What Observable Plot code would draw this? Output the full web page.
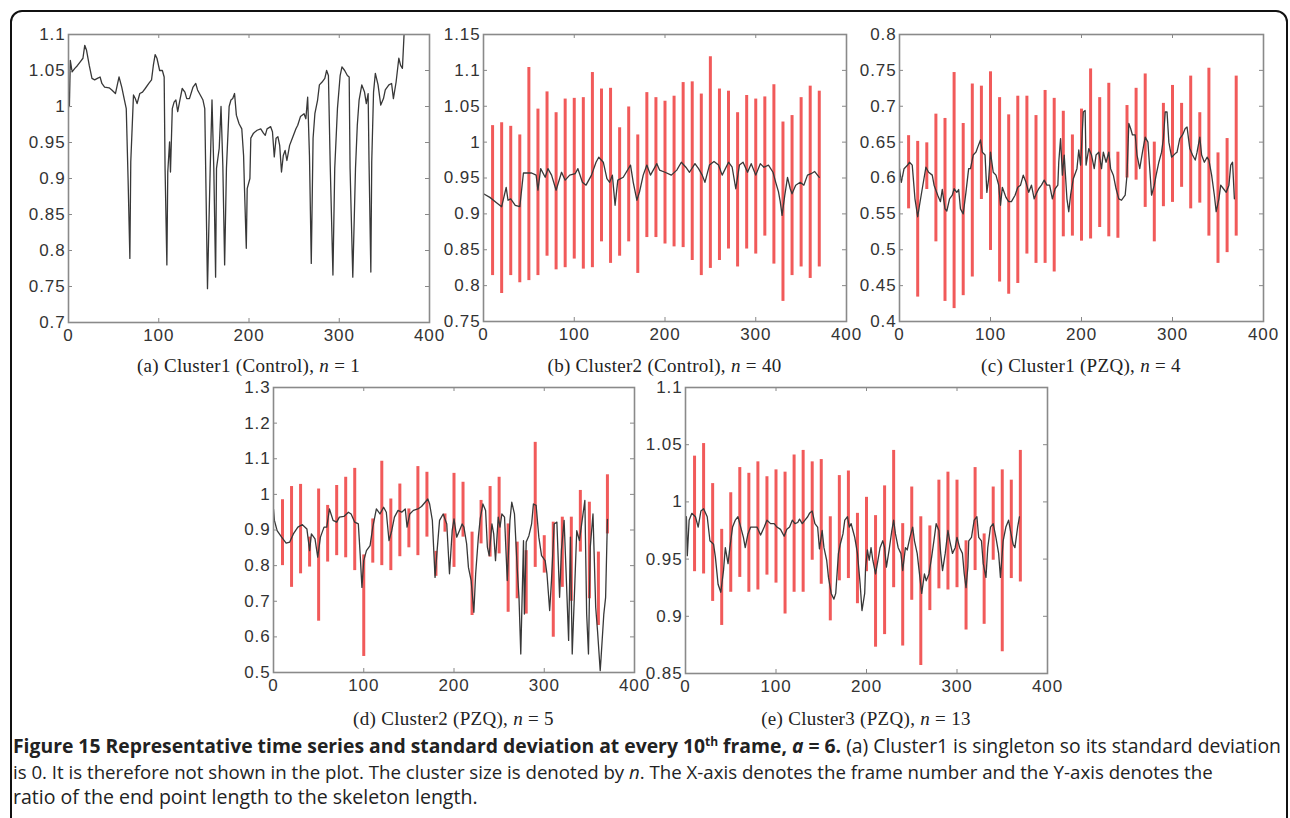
<!DOCTYPE html>
<html>
<head>
<meta charset="utf-8">
<script src="https://cdn.jsdelivr.net/npm/d3@7"></script>
<script src="https://cdn.jsdelivr.net/npm/@observablehq/plot@0.6"></script>
<style>
  html, body { margin: 0; padding: 0; background: #fff; }
  #root { position: relative; width: 1290px; height: 818px; overflow: hidden; background: #fff; }
  .border { position: absolute; left: 10px; top: 10px; width: 1278px; height: 900px; border: 2px solid #111; border-radius: 12px; box-sizing: border-box; }
  .panel { position: absolute; }
  .ptitle { position: absolute; width: 420px; text-align: center; font-family: "Liberation Serif", "Times New Roman", serif; font-size: 19px; line-height: 22px; color: #222; white-space: nowrap; letter-spacing: 0.3px; }
  .cap { position: absolute; left: 13px; font-family: "Open Sans", sans-serif; font-size: 16px; line-height: 25px; color: #222; white-space: nowrap; }
  .cap b { font-weight: 700; }
  .cap sup { font-size: 0.62em; line-height: 0; }
</style>
</head>
<body>
<div id="root">
  <div class="border"></div>
</div>
<script>
// ---------------- data ----------------
const xTicks = [0, 100, 200, 300, 400];
const barFrames = [10,20,30,40,50,60,70,80,90,100,110,120,130,140,150,160,170,180,190,200,210,220,230,240,250,260,270,280,290,300,310,320,330,340,350,360,370];

// (a) Cluster1 (Control), n = 1  -- [frame, ratio]
const seriesA = [[1,1.0],[2,1.064],[4,1.048],[7,1.053],[10,1.057],[13,1.062],[16,1.067],[18,1.085],[20,1.078],[23,1.057],[26,1.039],[29,1.037],[32,1.039],[35,1.041],[37,1.032],[40,1.027],[45,1.026],[48,1.023],[52,1.018],[56,1.041],[59,1.027],[62,1.009],[64,0.997],[66,0.900],[68,0.789],[69,0.923],[72,1.016],[74,1.011],[76,1.004],[79,1.018],[82,1.020],[85,1.025],[89,1.032],[92,1.037],[94,1.057],[96,1.072],[98,1.067],[101,1.050],[104,1.050],[106,1.041],[107,0.914],[109,0.780],[110,0.909],[112,0.951],[113,0.909],[115,0.997],[117,1.006],[119,1.009],[121,0.993],[123,1.006],[126,1.025],[129,1.020],[131,1.011],[134,1.011],[138,1.027],[141,1.032],[143,1.023],[146,1.016],[149,1.009],[151,0.997],[152,0.914],[154,0.747],[157,0.914],[159,1.009],[161,0.914],[163,0.763],[164,0.914],[167,0.942],[169,1.000],[171,0.918],[173,0.780],[175,0.914],[178,1.000],[180,1.009],[182,1.011],[184,1.018],[186,0.988],[189,0.976],[192,0.969],[194,0.932],[195,0.886],[197,0.803],[198,0.886],[201,0.900],[202,0.956],[205,0.963],[209,0.967],[213,0.969],[216,0.963],[218,0.960],[220,0.969],[224,0.972],[226,0.965],[228,0.930],[230,0.956],[232,0.958],[234,0.946],[236,0.909],[238,0.932],[240,0.939],[242,0.925],[245,0.946],[248,0.956],[252,0.969],[254,0.974],[257,0.986],[261,0.990],[263,0.983],[265,1.013],[267,0.932],[269,0.782],[271,0.956],[273,0.990],[276,1.009],[278,1.030],[281,1.034],[284,1.039],[286,1.050],[288,1.043],[290,0.918],[293,0.766],[295,0.914],[298,0.997],[301,1.043],[303,1.055],[306,1.050],[309,1.043],[311,1.041],[312,0.914],[315,0.763],[318,0.914],[320,0.974],[322,1.009],[325,1.030],[328,1.020],[330,1.004],[332,1.018],[333,0.923],[335,0.770],[336,0.923],[338,1.020],[340,1.046],[343,1.030],[346,1.002],[349,1.011],[351,1.023],[355,1.030],[358,1.032],[360,1.011],[363,1.034],[366,1.067],[368,1.057],[370,1.053],[372,1.105]];

// (b) Cluster2 (Control), n = 40
const seriesB = [[0,0.928],[7,0.923],[14,0.916],[20,0.910],[25,0.937],[27,0.919],[30,0.921],[35,0.912],[40,0.910],[44,0.957],[53,0.957],[58,0.954],[60,0.933],[63,0.963],[68,0.951],[71,0.963],[75,0.954],[80,0.933],[86,0.958],[90,0.947],[95,0.954],[101,0.956],[104,0.963],[109,0.944],[113,0.940],[119,0.954],[124,0.972],[127,0.979],[132,0.972],[136,0.949],[139,0.944],[142,0.954],[145,0.912],[148,0.947],[154,0.951],[162,0.968],[165,0.944],[169,0.919],[172,0.931],[176,0.954],[180,0.968],[184,0.954],[191,0.970],[194,0.961],[200,0.958],[207,0.954],[213,0.961],[218,0.972],[223,0.965],[227,0.958],[233,0.970],[237,0.963],[241,0.954],[244,0.944],[249,0.968],[254,0.973],[259,0.968],[263,0.954],[270,0.972],[274,0.965],[278,0.935],[282,0.968],[286,0.972],[291,0.958],[295,0.970],[300,0.954],[305,0.970],[309,0.965],[314,0.968],[319,0.958],[322,0.944],[325,0.931],[327,0.917],[329,0.898],[332,0.926],[335,0.951],[338,0.935],[340,0.928],[344,0.940],[349,0.944],[353,0.940],[357,0.954],[361,0.956],[365,0.959],[370,0.951]];
const highB = [1.023,1.027,1.022,1.010,1.104,1.046,1.070,1.041,1.060,1.061,1.062,1.097,1.074,1.075,1.020,1.049,1.010,1.069,1.062,1.057,1.064,1.083,1.084,1.067,1.119,1.074,1.071,1.041,1.065,1.060,1.063,1.080,1.028,1.037,1.062,1.078,1.071];
const lowB  = [0.814,0.789,0.814,0.804,0.807,0.814,0.841,0.822,0.825,0.837,0.823,0.825,0.861,0.831,0.841,0.861,0.817,0.867,0.867,0.858,0.854,0.853,0.835,0.814,0.824,0.835,0.851,0.826,0.851,0.844,0.869,0.830,0.778,0.814,0.826,0.810,0.826];

// (c) Cluster1 (PZQ), n = 4
const seriesC = [[0,0.613],[2,0.594],[5,0.613],[9,0.618],[11,0.622],[14,0.618],[17,0.571],[20,0.546],[22,0.562],[25,0.585],[29,0.615],[32,0.608],[36,0.604],[38,0.590],[42,0.576],[45,0.567],[47,0.584],[50,0.557],[52,0.554],[55,0.571],[58,0.576],[60,0.585],[63,0.580],[65,0.584],[67,0.557],[70,0.550],[73,0.580],[76,0.613],[78,0.613],[81,0.632],[84,0.636],[86,0.643],[89,0.653],[91,0.636],[94,0.632],[96,0.580],[98,0.599],[100,0.636],[103,0.608],[106,0.604],[109,0.590],[111,0.562],[113,0.587],[117,0.573],[120,0.567],[123,0.567],[127,0.576],[130,0.587],[133,0.590],[136,0.604],[139,0.594],[142,0.580],[145,0.590],[148,0.571],[151,0.580],[153,0.585],[156,0.590],[159,0.597],[162,0.590],[165,0.590],[168,0.571],[171,0.585],[174,0.590],[175,0.622],[177,0.655],[179,0.604],[181,0.632],[184,0.571],[186,0.553],[188,0.576],[191,0.599],[195,0.613],[197,0.639],[199,0.618],[202,0.692],[204,0.694],[205,0.618],[208,0.641],[211,0.632],[214,0.613],[216,0.632],[219,0.636],[222,0.613],[224,0.636],[227,0.622],[230,0.636],[232,0.613],[235,0.604],[238,0.585],[241,0.571],[244,0.569],[248,0.576],[250,0.604],[252,0.676],[254,0.669],[256,0.660],[259,0.660],[261,0.632],[264,0.613],[267,0.636],[270,0.657],[273,0.650],[275,0.613],[277,0.576],[280,0.590],[282,0.604],[285,0.622],[288,0.636],[290,0.655],[292,0.692],[294,0.692],[296,0.650],[299,0.629],[303,0.634],[305,0.636],[308,0.655],[311,0.660],[314,0.669],[316,0.671],[319,0.641],[322,0.632],[325,0.625],[327,0.636],[330,0.657],[332,0.632],[335,0.622],[338,0.629],[340,0.625],[343,0.604],[346,0.576],[348,0.553],[351,0.571],[353,0.590],[356,0.585],[359,0.580],[362,0.590],[364,0.618],[366,0.622],[368,0.571]];
const highC = [0.659,0.651,0.649,0.689,0.683,0.747,0.676,0.731,0.728,0.748,0.712,0.688,0.714,0.714,0.687,0.722,0.711,0.693,0.660,0.696,0.752,0.712,0.732,0.636,0.701,0.725,0.745,0.650,0.704,0.729,0.704,0.742,0.691,0.753,0.635,0.655,0.742];
const lowC  = [0.557,0.434,0.584,0.511,0.428,0.418,0.436,0.462,0.570,0.499,0.455,0.438,0.453,0.494,0.481,0.481,0.469,0.518,0.519,0.512,0.515,0.531,0.518,0.516,0.600,0.597,0.559,0.511,0.560,0.566,0.587,0.557,0.565,0.519,0.481,0.496,0.519];

// (d) Cluster2 (PZQ), n = 5
const seriesD = [[0,0.959],[1,0.927],[4,0.898],[9,0.880],[14,0.863],[18,0.866],[22,0.889],[27,0.908],[32,0.915],[37,0.903],[40,0.842],[42,0.889],[46,0.875],[49,0.824],[52,0.880],[56,0.908],[59,0.908],[62,0.959],[66,0.927],[70,0.922],[73,0.936],[78,0.938],[83,0.950],[86,0.945],[90,0.922],[94,0.917],[96,0.833],[98,0.739],[100,0.814],[103,0.842],[107,0.856],[110,0.908],[114,0.959],[118,0.945],[122,0.964],[125,0.950],[128,0.870],[131,0.898],[134,0.936],[138,0.955],[142,0.950],[146,0.959],[148,0.908],[151,0.945],[155,0.955],[160,0.959],[164,0.966],[168,0.978],[171,0.987],[173,0.973],[176,0.927],[179,0.767],[181,0.833],[184,0.927],[188,0.945],[192,0.917],[195,0.777],[198,0.898],[200,0.931],[203,0.880],[206,0.898],[209,0.917],[211,0.908],[214,0.861],[216,0.795],[219,0.758],[222,0.669],[224,0.777],[227,0.880],[229,0.931],[232,0.973],[235,0.955],[237,0.852],[239,0.828],[242,0.917],[244,0.889],[246,0.814],[249,0.936],[251,0.908],[253,0.945],[256,0.936],[259,0.758],[262,0.927],[264,0.978],[267,0.945],[270,0.795],[272,0.711],[274,0.552],[277,0.870],[278,0.664],[280,0.866],[283,0.884],[286,0.917],[288,0.973],[291,0.969],[294,0.880],[297,0.828],[301,0.814],[303,0.777],[306,0.674],[308,0.758],[311,0.917],[314,0.922],[317,0.711],[319,0.842],[322,0.927],[324,0.795],[327,0.590],[329,0.880],[331,0.552],[334,0.758],[336,0.898],[339,0.870],[342,0.927],[345,0.983],[347,0.664],[349,0.552],[351,0.852],[354,0.945],[357,0.683],[359,0.618],[362,0.505],[363,0.543],[366,0.664],[368,0.711],[370,0.930]];
const highD = [0.985,1.022,1.028,0.880,1.015,0.969,1.025,1.048,1.073,0.830,0.931,1.093,0.987,1.029,0.959,1.078,1.062,0.840,0.945,1.059,1.034,0.894,0.983,1.022,1.048,0.917,0.866,0.842,1.146,0.884,0.922,0.936,0.936,1.011,0.978,0.838,1.055];
const lowD  = [0.800,0.739,0.777,0.796,0.644,0.810,0.828,0.822,0.786,0.545,0.807,0.800,0.786,0.825,0.850,0.828,0.880,0.770,0.894,0.795,0.880,0.660,0.861,0.824,0.833,0.669,0.707,0.664,0.795,0.779,0.599,0.739,0.700,0.838,0.707,0.632,0.889];

// (e) Cluster3 (PZQ), n = 13
const seriesE = [[1,0.987],[2,0.953],[4,0.984],[7,0.990],[11,0.987],[14,0.978],[17,0.992],[20,0.994],[24,0.987],[27,0.966],[31,0.963],[33,0.952],[36,0.928],[39,0.921],[42,0.940],[44,0.960],[47,0.946],[49,0.960],[52,0.978],[55,0.984],[58,0.987],[61,0.978],[64,0.969],[66,0.960],[69,0.972],[72,0.978],[76,0.978],[79,0.978],[83,0.971],[87,0.978],[90,0.984],[94,0.981],[98,0.981],[101,0.978],[105,0.976],[109,0.970],[112,0.976],[115,0.978],[118,0.984],[121,0.981],[124,0.982],[126,0.985],[129,0.981],[132,0.984],[135,0.987],[137,0.990],[140,0.992],[143,0.981],[146,0.978],[148,0.959],[151,0.975],[153,0.960],[156,0.949],[158,0.934],[161,0.920],[164,0.915],[166,0.920],[169,0.955],[171,0.963],[174,0.972],[176,0.984],[179,0.987],[181,0.978],[183,0.981],[185,0.975],[187,0.969],[190,0.955],[193,0.928],[195,0.905],[198,0.920],[199,0.943],[201,0.958],[203,0.949],[205,0.960],[207,0.949],[210,0.937],[212,0.946],[215,0.960],[218,0.966],[220,0.960],[222,0.943],[225,0.958],[228,0.975],[230,0.984],[232,0.972],[235,0.960],[238,0.955],[240,0.940],[243,0.960],[245,0.958],[248,0.969],[251,0.978],[253,0.966],[256,0.955],[259,0.934],[261,0.920],[264,0.937],[266,0.931],[269,0.937],[272,0.952],[275,0.969],[277,0.981],[280,0.975],[282,0.955],[284,0.940],[287,0.955],[290,0.975],[292,0.966],[295,0.955],[298,0.960],[300,0.969],[303,0.960],[306,0.955],[308,0.937],[310,0.925],[312,0.943],[313,0.966],[316,0.969],[319,0.984],[322,0.987],[324,0.969],[327,0.966],[329,0.946],[332,0.934],[334,0.960],[337,0.978],[340,0.981],[343,0.969],[346,0.955],[348,0.934],[351,0.966],[354,0.978],[357,0.984],[359,0.975],[362,0.963],[364,0.960],[367,0.978],[369,0.987]];
const highE = [1.040,1.051,1.016,0.976,1.008,1.030,1.025,1.035,1.022,1.028,1.026,1.041,1.045,1.035,1.037,0.987,1.023,1.027,0.990,1.004,0.988,1.014,1.045,0.981,1.013,0.987,0.979,1.019,1.026,1.019,0.966,1.030,0.972,1.013,1.028,1.019,1.045];
const lowE  = [0.939,0.937,0.913,0.892,0.921,0.934,0.921,0.923,0.936,0.929,0.902,0.921,0.921,0.949,0.928,0.896,0.931,0.933,0.911,0.939,0.873,0.884,0.925,0.874,0.914,0.857,0.905,0.924,0.923,0.925,0.888,0.940,0.893,0.949,0.869,0.933,0.930];

// y tick labels for each panel
const yTicksA = [0.7,0.75,0.8,0.85,0.9,0.95,1,1.05,1.1];
const yTicksB = [0.75,0.8,0.85,0.9,0.95,1,1.05,1.1,1.15];
const yTicksC = [0.4,0.45,0.5,0.55,0.6,0.65,0.7,0.75,0.8];
const yTicksD = [0.5,0.6,0.7,0.8,0.9,1,1.1,1.2,1.3];
const yTicksE = [0.85,0.9,0.95,1,1.05,1.1];

const titles = [
  "(a) Cluster1 (Control), <i>n</i> = 1",
  "(b) Cluster2 (Control), <i>n</i> = 40",
  "(c) Cluster1 (PZQ), <i>n</i> = 4",
  "(d) Cluster2 (PZQ), <i>n</i> = 5",
  "(e) Cluster3 (PZQ), <i>n</i> = 13"
];

// ---------------- drawing ----------------
const root = document.getElementById("root");
const toBars = (hi, lo) => barFrames.map((f, i) => ({f, hi: hi[i], lo: lo[i]}));

const panels = [
  {box: [68, 34, 429, 322], ticks: yTicksA, line: seriesA, bars: [], title: titles[0], ty: 355},
  {box: [483, 34, 846, 321], ticks: yTicksB, line: seriesB, bars: toBars(highB, lowB), title: titles[1], ty: 355},
  {box: [899, 34, 1263, 321], ticks: yTicksC, line: seriesC, bars: toBars(highC, lowC), title: titles[2], ty: 355},
  {box: [273, 387, 634, 672], ticks: yTicksD, line: seriesD, bars: toBars(highD, lowD), title: titles[3], ty: 708},
  {box: [685, 387, 1047, 673], ticks: yTicksE, line: seriesE, bars: toBars(highE, lowE), title: titles[4], ty: 708}
];

const ml = 58, mr = 14, mt = 10, mb = 26;
const fmt = d3.format("~g");

for (const p of panels) {
  const [L, T, R, B] = p.box;
  const fw = R - L, fh = B - T;
  const yDomain = [p.ticks[0], p.ticks[p.ticks.length - 1]];
  const chart = Plot.plot({
    width: fw + ml + mr,
    height: fh + mt + mb,
    marginLeft: ml, marginRight: mr, marginTop: mt, marginBottom: mb,
    x: {domain: [0, 400], label: null},
    y: {domain: yDomain, label: null},
    style: {fontFamily: "'Liberation Sans', Arial, sans-serif", fontSize: "17px", color: "#333", background: "transparent", overflow: "visible"},
    marks: [
      Plot.ruleX(p.bars, {x: "f", y1: "lo", y2: "hi", stroke: "#f04c4c", strokeWidth: 3, strokeOpacity: 0.92}),
      Plot.line(p.line, {x: d => d[0], y: d => d[1], stroke: "#383838", strokeWidth: 1.3, clip: true}),
      Plot.tickX(xTicks, {x: d => d, insetTop: fh - 4, stroke: "#888", strokeWidth: 1}),
      Plot.tickX(xTicks, {x: d => d, insetBottom: fh - 4, stroke: "#888", strokeWidth: 1}),
      Plot.tickY(p.ticks, {y: d => d, insetRight: fw - 4, stroke: "#888", strokeWidth: 1}),
      Plot.tickY(p.ticks, {y: d => d, insetLeft: fw - 4, stroke: "#888", strokeWidth: 1}),
      Plot.frame({stroke: "#8a8a8a", strokeWidth: 1.6}),
      Plot.axisX({ticks: xTicks, tickFormat: d => String(d), tickSize: 0, tickPadding: 6, fill: "#333"}),
      Plot.axisY({ticks: p.ticks, tickFormat: fmt, tickSize: 0, tickPadding: 3, fill: "#333"})
    ]
  });
  chart.classList.add("panel");
  chart.style.left = (L - ml) + "px";
  chart.style.top = (T - mt) + "px";
  chart.style.letterSpacing = "0.9px";
  root.appendChild(chart);

  const t = document.createElement("div");
  t.className = "ptitle";
  t.innerHTML = p.title;
  t.style.left = ((L + R) / 2 - 210) + "px";
  t.style.top = p.ty + "px";
  root.appendChild(t);
}

// caption
const capLines = [
  {html: '<b>Figure 15 Representative time series and standard deviation at every 10<sup>th</sup> frame, <i>a</i> = 6.</b> (a) Cluster1 is singleton so its standard deviation', top: 733, target: 1268},
  {html: 'is 0. It is therefore not shown in the plot. The cluster size is denoted by <i>n</i>. The X-axis denotes the frame number and the Y-axis denotes the', top: 759, target: 1200},
  {html: 'ratio of the end point length to the skeleton length.', top: 784, target: 465}
];
for (const c of capLines) {
  const d = document.createElement("div");
  d.className = "cap";
  d.innerHTML = c.html;
  d.style.top = c.top + "px";
  root.appendChild(d);
  const w = d.getBoundingClientRect().width;
  d.style.fontSize = (16 * c.target / w).toFixed(2) + "px";
}
</script>
</body>
</html>
